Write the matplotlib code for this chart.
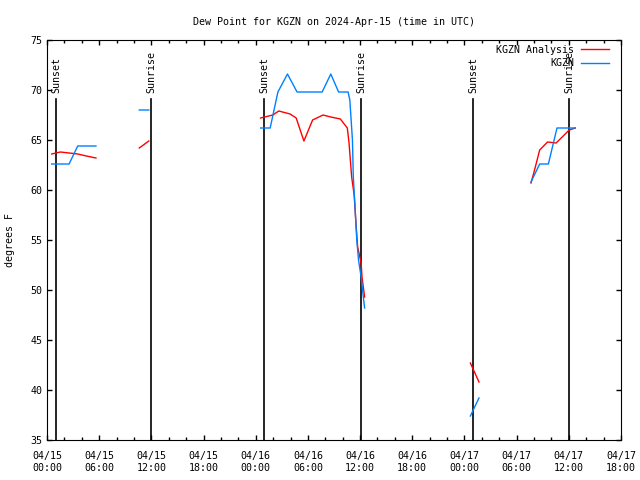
import pandas as pd
import numpy as np
import matplotlib.pyplot as plt
import matplotlib.dates as mdates

start = pd.Timestamp("2024-04-15 00:00")

# hours after 04/15 00:00 UTC, nan = gap in data
obs_hours = [0.54, 1.54, 2.54, 3.53, 4.53, 5.63, np.nan,
             10.61, 11.71, np.nan,
             24.56, 25.66, 26.55, 27.65, 28.75, 29.74, 30.74, 31.64, 32.63, 33.53, 34.62,
             34.82, 35.12, 35.22, 35.42, 35.62, 35.82, 36.12, 36.32, 36.52, np.nan,
             48.68, 49.67, np.nan,
             55.65, 56.65, 57.65, 58.64, 59.64, 60.74]
obs_dew = [62.6, 62.6, 62.6, 64.4, 64.4, 64.4, np.nan,
           68.0, 68.0, np.nan,
           66.2, 66.2, 69.8, 71.6, 69.8, 69.8, 69.8, 69.8, 71.6, 69.8, 69.8,
           69.0, 65.0, 61.3, 58.3, 55.0, 53.0, 51.3, 49.7, 48.2, np.nan,
           37.4, 39.2, np.nan,
           60.8, 62.6, 62.6, 66.2, 66.2, 66.2]

ana_hours = [0.54, 1.54, 2.54, 3.53, 4.53, 5.63, np.nan,
             10.61, 11.71, np.nan,
             24.56, 25.96, 26.65, 27.95, 28.65, 29.54, 30.54, 31.74, 32.63, 33.73, 34.53,
             34.73, 35.03, 35.32, 35.52, 35.72, 36.12, 36.22, 36.52, np.nan,
             48.68, 49.67, np.nan,
             55.65, 56.0, 56.65, 57.55, 58.54, 59.24, 60.04, 60.74]
ana_dew = [63.6, 63.8, 63.7, 63.6, 63.4, 63.2, np.nan,
           64.2, 64.9, np.nan,
           67.2, 67.5, 67.9, 67.6, 67.2, 64.9, 67.0, 67.5, 67.3, 67.1, 66.2,
           64.7, 61.3, 59.5, 56.7, 54.3, 52.7, 51.3, 49.3, np.nan,
           42.7, 40.8, np.nan,
           60.7, 61.8, 64.0, 64.8, 64.7, 65.3, 66.0, 66.2]

sun_hours = [1.03, 11.95, 24.95, 36.1, 48.98, 60.05]
sun_labels = ["Sunset", "Sunrise", "Sunset", "Sunrise", "Sunset", "Sunrise"]

t0 = mdates.date2num(start)


def to_time(h):
    return t0 + np.array(h, dtype=float) / 24.0


plt.rcParams['font.family'] = 'DejaVu Sans Mono'
plt.rcParams['font.size'] = 7.2

fig = plt.figure(figsize=(6.4, 4.8), dpi=100)
ax = fig.add_axes([47/640, 40/480, 574/640, 400/480])

for t, s in zip(to_time(sun_hours), sun_labels):
    ax.plot([t, t], [35, 69.1], color="black", lw=1.2, zorder=1)
    ax.text(t, 69.7, s, rotation=90, ha="center", va="bottom")

ax.plot(to_time(ana_hours), ana_dew, color="#ff0000", lw=1.0, label="KGZN Analysis", zorder=2)
ax.plot(to_time(obs_hours), obs_dew, color="#0080ff", lw=1.0, label="KGZN", zorder=3)

ax.set_xlim(t0, t0 + 66/24)
ax.set_ylim(35, 75)
ax.xaxis_date()
ax.xaxis.set_major_locator(mdates.HourLocator(byhour=[0, 6, 12, 18]))
ax.xaxis.set_minor_locator(mdates.HourLocator(byhour=range(0, 24, 2)))
ax.xaxis.set_major_formatter(mdates.DateFormatter("%m/%d\n%H:%M"))
ax.set_yticks(range(35, 76, 5))
ax.tick_params(direction="in", top=True, right=True, length=3.6, width=1)
ax.tick_params(which="minor", direction="in", top=True, length=2, width=1)
ax.tick_params(axis="x", pad=8)

ax.set_title("Dew Point for KGZN on 2024-Apr-15 (time in UTC)", fontsize=7.2, pad=11)
ax.set_ylabel("degrees F")
ax.yaxis.set_label_coords(-32/574, 0.5)

ax.legend(loc="upper right", bbox_to_anchor=(1 - 8/574, 1 - 1/400), frameon=False,
          markerfirst=False, handlelength=2.8, borderaxespad=0.0,
          labelspacing=0.35, handletextpad=0.7)

plt.savefig("out.png")
